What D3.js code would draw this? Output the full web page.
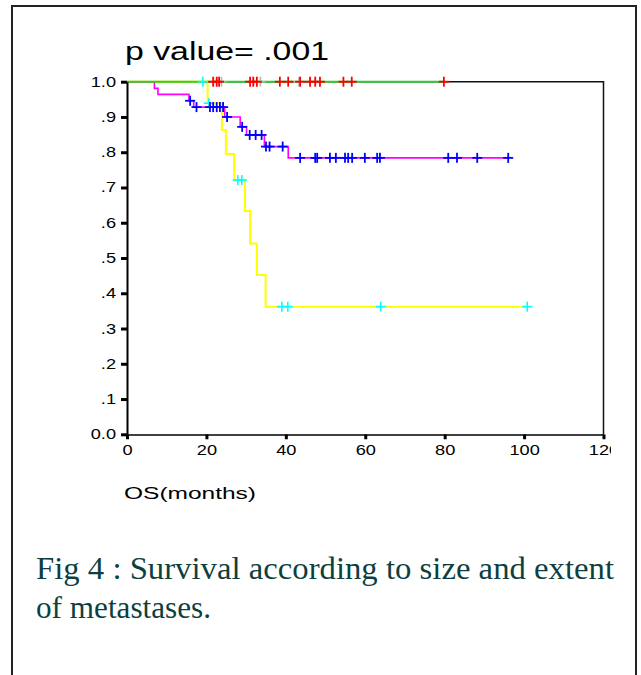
<!DOCTYPE html>
<html>
<head>
<meta charset="utf-8">
<script src="https://cdn.jsdelivr.net/npm/d3@7"></script>
<style>
  body { margin: 0; background: #fff; }
  svg { display: block; }
  .axis path, .axis line { stroke: #000; }
  .axis text { font-family: "Liberation Sans", Arial, sans-serif; fill: #000; }
</style>
</head>
<body>
<div id="chart"></div>
<script>
// ticks
const xTicks = [0, 20, 40, 60, 80, 100, 120];
const yTicks = [0, 0.1, 0.2, 0.3, 0.4, 0.5, 0.6, 0.7, 0.8, 0.9, 1.0];
const yTickLabels = ["0.0", ".1", ".2", ".3", ".4", ".5", ".6", ".7", ".8", ".9", "1.0"];

// group 1 : no events (green line, red censors)
const greenSteps = [[0, 1]];
const greenEnd = 79.8;
const greenCensored = [21.7, 22.6, 23.2, 31.0, 31.8, 32.7, 38.5, 40.6, 43.6, 46.1, 47.4, 48.6, 54.5, 56.6, 79.8];
// faint grey censors sitting on the top line
const greyCensored = [23.8, 33.6, 43.3];

// group 2 (magenta line, blue censors)
const magentaSteps = [[0, 1], [6.9, 0.981], [7.8, 0.964], [15.6, 0.946], [16.8, 0.928], [24.6, 0.900],
  [28.5, 0.872], [30.1, 0.849], [34.6, 0.816], [40.6, 0.784]];
const magentaEnd = 96.0;
const magentaCensored = [15.9, 17.5, 20.9, 21.7, 22.6, 23.4, 24.2, 25.2, 29.0, 30.9, 32.4, 33.9, 35.0, 35.9, 39.2,
  43.6, 47.4, 47.9, 51.1, 52.6, 54.9, 55.7, 56.7, 59.9, 63.0, 63.7, 80.9, 83.1, 88.2, 96.0];

// group 3 (yellow line, cyan censors)
const yellowSteps = [[0, 1], [20.3, 0.939], [23.9, 0.863], [24.9, 0.795], [27.0, 0.721], [29.7, 0.633],
  [31.0, 0.541], [32.7, 0.452], [34.9, 0.362]];
const yellowEnd = 100.8;
const yellowCensored = [19.1, 20.6, 27.9, 28.9, 39.0, 40.5, 63.9, 100.8];

const width = 641, height = 675;
const stretch = 1.3;

const svg = d3.select("#chart").append("svg")
  .attr("width", width)
  .attr("height", height);

// the source picture cuts the last tick label
svg.append("clipPath").attr("id", "crop")
  .append("rect").attr("x", 0).attr("y", 0).attr("width", 611).attr("height", height);

// page frame (open at the bottom)
svg.append("path")
  .attr("d", `M12,${height} V6 H636 V${height}`)
  .attr("fill", "none")
  .attr("stroke", "#222")
  .attr("stroke-width", 2);

const x = d3.scaleLinear().domain([0, 120]).range([127, 603.5]);
const y = d3.scaleLinear().domain([0, 1]).range([434.3, 81.7]);

// plot frame, top and right
svg.append("path")
  .attr("d", `M${x(0)},${y(1)} H${x(120)} V${y(0)}`)
  .attr("fill", "none")
  .attr("stroke", "#111")
  .attr("stroke-width", 1.5);

const survAt = (steps, t) => {
  let s = steps[0][1];
  steps.forEach((d) => { if (d[0] <= t) s = d[1]; });
  return s;
};

const line = d3.line()
  .x((d) => x(d[0]))
  .y((d) => y(d[1]))
  .curve(d3.curveStepAfter);

const groups = [
  { steps: yellowSteps, end: yellowEnd, line: "#ffff00", w: 2 },
  { steps: magentaSteps, end: magentaEnd, line: "#ff00ff", w: 1.6 },
  { steps: greenSteps, end: greenEnd, line: "#33cc33", w: 2 }
];

groups.forEach((g) => {
  const pts = g.steps.concat([[g.end, g.steps[g.steps.length - 1][1]]]);
  svg.append("path")
    .datum(pts)
    .attr("d", line)
    .attr("fill", "none")
    .attr("stroke", g.line)
    .attr("stroke-width", g.w);
});

const drawMarks = (times, steps, color, sw) => {
  const m = svg.append("g")
    .selectAll("g")
    .data(times)
    .join("g")
    .attr("transform", (t) => `translate(${x(t)},${y(survAt(steps, t))})`);
  m.append("line").attr("x1", -5).attr("x2", 5)
    .attr("stroke", color).attr("stroke-width", sw);
  m.append("line").attr("y1", -5).attr("y2", 5)
    .attr("stroke", color).attr("stroke-width", sw);
};

drawMarks(yellowCensored, yellowSteps, "#00ffff", 1.6);
drawMarks(magentaCensored, magentaSteps, "#0000ff", 1.8);
drawMarks(greyCensored, greenSteps, "#b8b8b8", 1.6);
drawMarks(greenCensored, greenSteps, "#ff0000", 1.8);

// axes
const yAxis = svg.append("g")
  .attr("class", "axis")
  .attr("transform", `translate(${x(0)},0)`)
  .call(d3.axisLeft(y).tickValues(yTicks).tickSize(6).tickSizeOuter(0)
    .tickFormat((d, i) => yTickLabels[i]));
yAxis.select(".domain").attr("stroke-width", 2);
yAxis.selectAll(".tick line").attr("stroke-width", 3);
yAxis.selectAll(".tick text")
  .attr("font-size", 14)
  .attr("x", -11 / stretch)
  .attr("transform", `scale(${stretch},1)`);

const xAxis = svg.append("g")
  .attr("class", "axis")
  .attr("clip-path", "url(#crop)")
  .attr("transform", `translate(0,${y(0)})`)
  .call(d3.axisBottom(x).tickValues(xTicks).tickSize(5).tickSizeOuter(0));
xAxis.select(".domain").attr("stroke-width", 2);
xAxis.selectAll(".tick line").attr("stroke-width", 3);
xAxis.selectAll(".tick text")
  .attr("font-size", 14)
  .attr("y", 11)
  .attr("transform", `scale(${stretch},1)`);

// texts
svg.append("text")
  .attr("x", 125).attr("y", 60)
  .attr("font-family", "Liberation Sans, Arial, sans-serif")
  .attr("font-size", 25)
  .attr("textLength", 204)
  .attr("lengthAdjust", "spacingAndGlyphs")
  .text("p value= .001");

svg.append("text")
  .attr("x", 124).attr("y", 499)
  .attr("font-family", "Liberation Sans, Arial, sans-serif")
  .attr("font-size", 16)
  .attr("textLength", 132)
  .attr("lengthAdjust", "spacingAndGlyphs")
  .text("OS(months)");

svg.append("text")
  .attr("x", 36).attr("y", 579)
  .attr("font-family", "Liberation Serif, Times New Roman, serif")
  .attr("font-size", 31)
  .attr("fill", "#0d3f3f")
  .attr("textLength", 578)
  .attr("lengthAdjust", "spacingAndGlyphs")
  .text("Fig 4 : Survival according to size and extent");

svg.append("text")
  .attr("x", 36).attr("y", 618)
  .attr("font-family", "Liberation Serif, Times New Roman, serif")
  .attr("font-size", 31)
  .attr("fill", "#0d3f3f")
  .attr("textLength", 175)
  .attr("lengthAdjust", "spacingAndGlyphs")
  .text("of metastases.");
</script>
</body>
</html>
